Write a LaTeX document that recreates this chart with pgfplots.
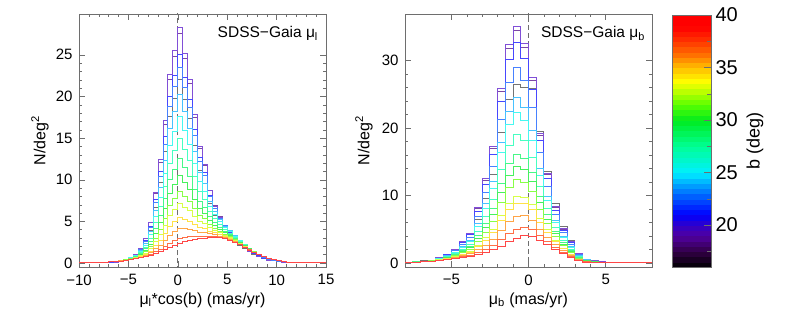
\documentclass[border=0pt]{standalone}
\usepackage{fontspec}
\setmainfont{Liberation Sans}
\usepackage{pgfplots}
\usepackage{pgfplotstable}
\pgfplotsset{compat=1.18}

\definecolor{c1}{RGB}{60,60,60}
\definecolor{c2}{RGB}{75,0,130}
\definecolor{c3}{RGB}{80,10,200}
\definecolor{c4}{RGB}{0,0,255}
\definecolor{c5}{RGB}{0,80,255}
\definecolor{c6}{RGB}{0,170,255}
\definecolor{c7}{RGB}{0,245,235}
\definecolor{c8}{RGB}{0,255,170}
\definecolor{c9}{RGB}{0,245,90}
\definecolor{c10}{RGB}{0,235,30}
\definecolor{c11}{RGB}{90,255,0}
\definecolor{c12}{RGB}{200,255,0}
\definecolor{c13}{RGB}{255,215,0}
\definecolor{c14}{RGB}{255,130,0}
\definecolor{c15}{RGB}{255,55,0}
\definecolor{c16}{RGB}{255,0,0}
\definecolor{framegray}{RGB}{110,110,110}

\pgfplotsset{colormap={idl}{rgb255(16)=(0,0,0) rgb255(17.5)=(50,0,70) rgb255(19)=(80,0,160) rgb255(20)=(50,0,200) rgb255(21)=(0,0,255) rgb255(22.5)=(0,80,255) rgb255(24)=(0,170,255) rgb255(25)=(0,240,255) rgb255(27.5)=(0,255,150) rgb255(30)=(0,235,30) rgb255(31.5)=(90,255,0) rgb255(32.5)=(170,255,0) rgb255(33.7)=(255,255,0) rgb255(35)=(255,190,0) rgb255(36.3)=(255,110,0) rgb255(37.6)=(255,50,0) rgb255(38.9)=(255,0,0) rgb255(40)=(255,0,0)}}

\pgfplotstableread{
x s1 s2 s3 s4 s5 s6 s7 s8 s9 s10 s11 s12 s13 s14 s15 s16
-10 .02 .02 .02 .02 .02 .02 .02 .02 .02 .02 .02 .02 .02 .02 .02 .02
-9.5 .02 .02 .02 .02 .03 .03 .03 .03 .03 .03 .03 .03 .03 .03 .03 .03
-9 .02 .02 .02 .02 .03 .03 .03 .03 .03 .03 .03 .03 .03 .03 .03 .03
-8.5 .04 .04 .04 .05 .05 .06 .06 .06 .06 .06 .06 .06 .06 .06 .06 .06
-8 .06 .07 .06 .07 .08 .09 .09 .09 .09 .09 .09 .09 .09 .09 .09 .09
-7.5 .08 .09 .08 .09 .10 .12 .12 .12 .12 .12 .12 .12 .12 .12 .12 .12
-7 .10 .11 .10 .12 .13 .15 .15 .15 .15 .15 .15 .15 .15 .15 .15 .15
-6.5 .12 .13 .12 .14 .16 .17 .18 .18 .18 .18 .18 .18 .18 .18 .18 .18
-6 .26 .31 .29 .30 .32 .32 .32 .30 .29 .28 .27 .27 .26 .25 .24 .24
-5.5 .41 .48 .47 .46 .48 .47 .46 .43 .40 .38 .37 .35 .33 .32 .31 .30
-5 .57 .68 .66 .65 .67 .65 .62 .58 .55 .52 .49 .47 .44 .42 .40 .39
-4.5 .84 1.00 .99 .96 .96 .92 .87 .80 .74 .69 .64 .61 .57 .53 .50 .49
-4 1.43 1.74 1.75 1.63 1.61 1.49 1.38 1.25 1.12 1.02 .93 .85 .77 .71 .65 .62
-3.5 2.35 2.89 2.92 2.69 2.60 2.37 2.15 1.91 1.69 1.51 1.34 1.20 1.06 .94 .83 .78
-3 3.90 4.82 4.90 4.43 4.25 3.78 3.38 2.96 2.56 2.24 1.94 1.70 1.44 1.24 1.04 .95
-2.5 6.69 8.33 8.52 7.62 7.23 6.32 5.58 4.82 4.10 3.52 2.97 2.53 2.07 1.69 1.34 1.17
-2 9.70 12.10 12.41 11.03 10.42 9.05 7.93 6.81 5.73 4.87 4.06 3.41 2.72 2.16 1.65 1.39
-1.5 13.34 16.68 17.12 15.17 14.29 12.34 10.77 9.21 7.71 6.51 5.37 4.47 3.51 2.73 2.01 1.65
-1 17.60 22.03 22.64 20.01 18.82 16.18 14.08 12.00 10.00 8.40 6.88 5.68 4.40 3.36 2.40 1.92
-0.5 19.80 24.79 25.47 22.51 21.17 18.21 15.84 13.50 11.25 9.45 7.74 6.39 4.95 3.78 2.70 2.16
0 22.00 27.54 28.30 25.01 23.52 20.23 17.60 15.00 12.50 10.50 8.60 7.10 5.50 4.20 3.00 2.40
0.5 19.65 24.55 25.19 22.34 21.08 18.22 15.92 13.63 11.43 9.67 8.00 6.68 5.27 4.13 3.07 2.54
1 17.30 21.56 22.08 19.67 18.62 16.21 14.24 12.26 10.36 8.84 7.40 6.26 5.04 4.06 3.14 2.69
1.5 14.10 17.51 17.88 16.04 15.28 13.44 11.91 10.35 8.85 7.65 6.51 5.61 4.65 3.87 3.15 2.79
2 11.11 13.72 13.95 12.65 12.16 10.86 9.74 8.57 7.44 6.54 5.69 5.01 4.29 3.71 3.17 2.90
2.5 9.54 11.73 11.87 10.87 10.53 9.51 8.62 7.65 6.73 5.99 5.29 4.73 4.14 3.66 3.21 2.99
3 7.13 8.68 8.71 8.13 8.00 7.42 6.85 6.20 5.57 5.07 4.60 4.22 3.82 3.50 3.20 3.05
3.5 5.71 6.88 6.84 6.51 6.51 6.18 5.79 5.32 4.87 4.51 4.17 3.90 3.61 3.38 3.16 3.05
4 4.66 5.56 5.48 5.32 5.39 5.24 4.99 4.65 4.32 4.06 3.82 3.62 3.41 3.24 3.09 3.01
4.5 3.77 4.45 4.34 4.32 4.45 4.42 4.28 4.04 3.82 3.64 3.47 3.33 3.19 3.07 2.96 2.91
5 3.24 3.80 3.68 3.71 3.86 3.88 3.79 3.60 3.43 3.29 3.16 3.05 2.94 2.85 2.76 2.72
5.5 2.67 3.10 2.99 3.06 3.22 3.29 3.24 3.11 2.98 2.88 2.79 2.71 2.63 2.57 2.51 2.48
6 2.16 2.49 2.38 2.48 2.63 2.73 2.70 2.61 2.52 2.45 2.39 2.34 2.28 2.23 2.19 2.17
6.5 1.76 2.01 1.91 2.02 2.15 2.26 2.25 2.18 2.12 2.07 2.02 1.99 1.95 1.91 1.88 1.87
7 1.35 1.53 1.44 1.55 1.68 1.78 1.79 1.75 1.72 1.69 1.66 1.64 1.61 1.59 1.57 1.56
7.5 1.05 1.18 1.11 1.20 1.31 1.40 1.42 1.39 1.36 1.34 1.33 1.31 1.29 1.28 1.27 1.26
8 .76 .86 .79 .88 .97 1.05 1.07 1.05 1.04 1.03 1.02 1.02 1.01 1.00 .99 .99
8.5 .50 .55 .50 .58 .65 .73 .75 .75 .75 .75 .75 .75 .75 .75 .75 .75
9 .36 .40 .36 .41 .47 .52 .54 .54 .54 .54 .54 .54 .54 .54 .54 .54
9.5 .26 .29 .26 .30 .34 .38 .39 .39 .39 .39 .39 .39 .39 .39 .39 .39
10 .18 .20 .18 .21 .23 .26 .27 .27 .27 .27 .27 .27 .27 .27 .27 .27
10.5 .12 .13 .12 .14 .16 .17 .18 .18 .18 .18 .18 .18 .18 .18 .18 .18
11 .08 .09 .08 .09 .10 .12 .12 .12 .12 .12 .12 .12 .12 .12 .12 .12
11.5 .06 .07 .06 .07 .08 .09 .09 .09 .09 .09 .09 .09 .09 .09 .09 .09
12 .04 .04 .04 .05 .05 .06 .06 .06 .06 .06 .06 .06 .06 .06 .06 .06
12.5 .02 .02 .02 .02 .03 .03 .03 .03 .03 .03 .03 .03 .03 .03 .03 .03
13 .02 .02 .02 .02 .03 .03 .03 .03 .03 .03 .03 .03 .03 .03 .03 .03
13.5 .01 .01 .01 .01 .01 .01 .01 .01 .01 .01 .01 .01 .01 .01 .01 .01
14 .01 .01 .01 .01 .01 .01 .01 .01 .01 .01 .01 .01 .01 .01 .01 .01
14.5 .01 .01 .01 .01 .01 .01 .01 .01 .01 .01 .01 .01 .01 .01 .01 .01
15 .01 .01 .01 .01 .01 .01 .01 .01 .01 .01 .01 .01 .01 .01 .01 .01
}\leftdata

\pgfplotstableread{
x s1 s2 s3 s4 s5 s6 s7 s8 s9 s10 s11 s12 s13 s14 s15 s16
-8 .11 .09 .09 .09 .10 .09 .10 .10 .09 .09 .09 .09 .09 .08 .08 .08
-7.5 .21 .18 .18 .18 .18 .17 .17 .17 .16 .15 .15 .14 .14 .13 .12 .11
-7 .31 .29 .29 .29 .28 .27 .27 .26 .24 .23 .22 .21 .21 .20 .19 .17
-6.5 .45 .43 .43 .42 .41 .39 .38 .35 .34 .33 .31 .29 .28 .26 .24 .23
-6 .77 .76 .77 .75 .73 .66 .64 .60 .56 .53 .50 .46 .44 .40 .37 .34
-5.5 1.22 1.30 1.32 1.26 1.19 1.07 1.03 .94 .86 .80 .74 .67 .64 .57 .52 .47
-5 1.80 1.99 2.01 1.92 1.79 1.60 1.52 1.37 1.24 1.16 1.06 .94 .89 .78 .69 .62
-4.5 2.70 3.12 3.17 3.00 2.76 2.42 2.28 2.03 1.81 1.66 1.50 1.30 1.22 1.05 .90 .78
-4 3.72 4.38 4.45 4.20 3.84 3.35 3.14 2.77 2.45 2.24 2.01 1.72 1.61 1.37 1.15 .98
-3.5 6.46 8.07 8.21 7.68 6.90 5.91 5.46 4.72 4.08 3.67 3.22 2.66 2.43 1.98 1.55 1.25
-3 9.59 12.26 12.47 11.64 10.39 8.83 8.09 6.94 5.93 5.30 4.60 3.73 3.38 2.67 2.01 1.55
-2.5 13.15 17.00 17.29 16.11 14.34 12.13 11.10 9.47 8.05 7.17 6.19 4.97 4.48 3.50 2.57 1.94
-2 19.35 25.36 25.80 24.00 21.28 17.92 16.34 13.88 11.72 10.39 8.91 7.06 6.32 4.86 3.45 2.50
-1.5 24.31 31.86 32.42 30.15 26.73 22.51 20.52 17.44 14.72 13.04 11.18 8.86 7.93 6.09 4.33 3.13
-1 26.46 34.46 35.06 32.64 28.99 24.47 22.34 19.03 16.12 14.32 12.32 9.82 8.82 6.83 4.93 3.64
-0.5 26.00 31.92 32.47 30.30 27.06 22.98 21.09 18.10 15.47 13.83 12.01 9.73 8.82 6.99 5.27 4.07
0 25.80 27.04 27.50 25.71 23.06 19.68 18.13 15.64 13.46 12.09 10.57 8.67 7.91 6.36 4.92 3.92
0.5 19.50 18.96 19.27 18.09 16.34 14.07 13.03 11.35 9.87 8.94 7.90 6.60 6.08 5.01 4.02 3.31
1 13.60 13.10 13.31 12.54 11.41 9.91 9.23 8.11 7.13 6.50 5.80 4.93 4.58 3.84 3.18 2.69
1.5 8.90 8.18 8.31 7.86 7.23 6.34 5.97 5.31 4.73 4.35 3.93 3.40 3.19 2.74 2.35 2.04
2 5.40 5.01 5.09 4.83 4.47 3.96 3.75 3.35 3.02 2.79 2.54 2.23 2.10 1.83 1.59 1.41
2.5 3.40 3.12 3.17 3.00 2.76 2.42 2.28 2.03 1.81 1.66 1.50 1.30 1.22 1.05 .90 .78
3 1.40 1.37 1.39 1.32 1.22 1.07 1.01 .90 .80 .74 .67 .58 .55 .47 .40 .35
3.5 .60 .59 .60 .57 .53 .46 .44 .39 .35 .32 .29 .25 .24 .21 .18 .15
4 .30 .32 .32 .30 .28 .24 .23 .20 .18 .17 .15 .13 .12 .11 .09 .08
4.5 .15 .16 .16 .15 .14 .12 .11 .10 .09 .08 .07 .06 .06 .05 .05 .04
5 .08 .08 .08 .08 .07 .06 .06 .05 .05 .04 .04 .03 .03 .03 .02 .02
5.5 .05 .05 .05 .05 .04 .04 .04 .03 .03 .03 .02 .02 .02 .02 .01 .01
6 .03 .03 .03 .03 .03 .03 .03 .02 .02 .02 .02 .02 .01 .01 .01 .01
6.5 .02 .02 .02 .02 .02 .02 .02 .01 .01 .01 .01 .01 .01 .01 .01 .01
7 .01 .01 .01 .01 .01 .01 .01 .01 .01 .01 .01 .01 .01 .01 .01 .01
7.5 .01 .01 .01 .01 .01 .01 .01 .01 .01 .01 .01 .01 .01 .01 .01 .01
8 .01 .01 .01 .01 .01 .01 .01 .01 .01 .01 .01 .01 .01 .01 .01 .01
}\rightdata

\pgfplotsset{
  idl/.style={
    scale only axis, width=247pt, height=253pt,
    axis line style={draw=framegray},
    every tick/.style={framegray},
    tick align=inside,
    major tick length=6pt, minor tick length=3pt,
    no markers,
    /pgf/number format/assume math mode=true,
    scaled ticks=false,
    ticklabel style={font=\fontsize{15}{15}\selectfont},
    xticklabel style={yshift=-4pt},
    yticklabel style={xshift=-3pt},
    label style={font=\fontsize{16}{16}\selectfont},
    xlabel style={at={(axis description cs:0.5,-0.13)}, anchor=center},
  },
  hist/.style={const plot, line width=0.9pt},
}

\begin{document}
\begin{tikzpicture}
\path[use as bounding box] (0,0) rectangle (789pt,315pt);

\begin{axis}[idl, at={(79pt,48pt)}, anchor=south west,
  xmin=-10, xmax=15, ymin=-0.48, ymax=29.9,
  xtick={-10,-5,0,5,10,15}, xticklabels={−10,−5,0,5,10,15},
  minor x tick num=4,
  ytick={0,5,10,15,20,25}, minor y tick num=4,
  xlabel={μ\textsubscript{l}*cos(b) (mas/yr)},
  ylabel={N/deg\textsuperscript{2}},
  ylabel style={at={(axis description cs:-0.158,0.5)}, anchor=center},
]
\addplot[framegray, dash pattern=on 5pt off 3pt, line width=0.7pt] coordinates {(0,-1) (0,40)};
\pgfplotsinvokeforeach{1,...,16}{
  \addplot[hist, draw=c#1!72!white] table[x=x, y=s#1]{\leftdata};
}
\node[anchor=north east, inner sep=0pt, font=\fontsize{15.5}{15.5}\selectfont]
  at (rel axis cs:0.968,0.952) {SDSS−Gaia μ\textsubscript{l}};
\end{axis}

\begin{axis}[idl, at={(405pt,48pt)}, anchor=south west,
  xmin=-8, xmax=8, ymin=-0.59, ymax=36.9,
  xtick={-5,0,5}, xticklabels={−5,0,5},
  minor x tick num=4,
  ytick={0,10,20,30}, minor y tick num=4,
  xlabel={μ\textsubscript{b} (mas/yr)},
  ylabel={N/deg\textsuperscript{2}},
  ylabel style={at={(axis description cs:-0.166,0.5)}, anchor=center},
]
\addplot[framegray, dash pattern=on 5pt off 3pt, line width=0.7pt] coordinates {(0,-1) (0,40)};
\pgfplotsinvokeforeach{1,...,16}{
  \addplot[hist, draw=c#1!72!white] table[x=x, y=s#1]{\rightdata};
}
\node[anchor=north east, inner sep=0pt, font=\fontsize{15.5}{15.5}\selectfont]
  at (rel axis cs:0.972,0.952) {SDSS−Gaia μ\textsubscript{b}};
\end{axis}

\begin{axis}[at={(672pt,48pt)}, anchor=south west, scale only axis,
  width=39pt, height=252pt,
  xmin=0, xmax=1, ymin=16, ymax=40,
  axis line style={draw=framegray},
  every tick/.style={framegray},
  tick align=inside, major tick length=7pt, minor tick length=4pt,
  xtick=\empty, ytick={20,25,30,35,40},
  minor ytick={17.5,22.5,27.5,32.5,37.5},
  ytick pos=right, yticklabel pos=right,
  /pgf/number format/assume math mode=true,
  yticklabel style={font=\fontsize{20}{20}\selectfont, xshift=1pt},
  ylabel={b (deg)},
  ylabel style={font=\fontsize{18}{18}\selectfont, at={(axis description cs:2.13,0.5)}, anchor=center},
  colormap name=idl, point meta min=16, point meta max=40,
  axis on top,
]
\addplot[surf, shader=flat, mesh/cols=2, point meta=y] coordinates {
(0,16)(1,16) (0,16.5)(1,16.5) (0,17)(1,17) (0,17.5)(1,17.5) (0,18)(1,18) (0,18.5)(1,18.5)
(0,19)(1,19) (0,19.5)(1,19.5) (0,20)(1,20) (0,20.5)(1,20.5) (0,21)(1,21) (0,21.5)(1,21.5)
(0,22)(1,22) (0,22.5)(1,22.5) (0,23)(1,23) (0,23.5)(1,23.5) (0,24)(1,24) (0,24.5)(1,24.5)
(0,25)(1,25) (0,25.5)(1,25.5) (0,26)(1,26) (0,26.5)(1,26.5) (0,27)(1,27) (0,27.5)(1,27.5)
(0,28)(1,28) (0,28.5)(1,28.5) (0,29)(1,29) (0,29.5)(1,29.5) (0,30)(1,30) (0,30.5)(1,30.5)
(0,31)(1,31) (0,31.5)(1,31.5) (0,32)(1,32) (0,32.5)(1,32.5) (0,33)(1,33) (0,33.5)(1,33.5)
(0,34)(1,34) (0,34.5)(1,34.5) (0,35)(1,35) (0,35.5)(1,35.5) (0,36)(1,36) (0,36.5)(1,36.5)
(0,37)(1,37) (0,37.5)(1,37.5) (0,38)(1,38) (0,38.5)(1,38.5) (0,39)(1,39) (0,39.5)(1,39.5)
(0,40)(1,40)
};
\end{axis}
\end{tikzpicture}
\end{document}
